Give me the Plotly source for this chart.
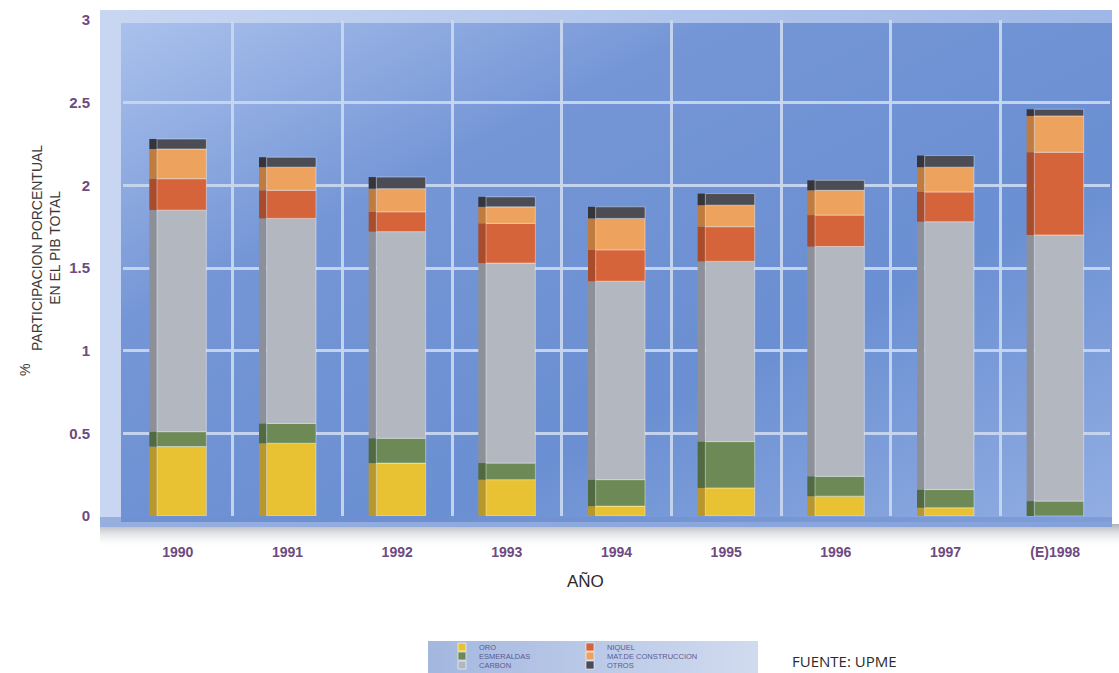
import base64
import numpy as np
import plotly.graph_objects as go

# Participación porcentual de la minería en el PIB total, por año y mineral
years = ["1990", "1991", "1992", "1993", "1994", "1995", "1996", "1997", "(E)1998"]
oro = [0.42, 0.44, 0.32, 0.22, 0.06, 0.17, 0.12, 0.05, 0.00]
esmeraldas = [0.09, 0.12, 0.15, 0.10, 0.16, 0.28, 0.12, 0.11, 0.09]
carbon = [1.34, 1.24, 1.25, 1.21, 1.20, 1.09, 1.39, 1.62, 1.61]
niquel = [0.19, 0.17, 0.12, 0.24, 0.19, 0.21, 0.19, 0.18, 0.50]
mat_construccion = [0.18, 0.14, 0.14, 0.10, 0.19, 0.13, 0.15, 0.15, 0.22]
otros = [0.06, 0.06, 0.07, 0.06, 0.07, 0.07, 0.06, 0.07, 0.04]

# name, values, front colour, side colour
series = [
    ("ORO", oro, "#e8c232", "#b8972c"),
    ("ESMERALDAS", esmeraldas, "#6d8a56", "#526a42"),
    ("CARBON", carbon, "#b3b7bf", "#8d9098"),
    ("NIQUEL", niquel, "#d6643a", "#a84c2c"),
    ("MAT.DE CONSTRUCCION", mat_construccion, "#eda35e", "#c07c3f"),
    ("OTROS", otros, "#4b4c54", "#34353b"),
]

W, H = 1119, 673
L, R, T, B = 123, 9, 20, 157
PW, PH = W - L - R, H - T - B


def px_x(x):
    return (x - L) / PW


def px_y(y):
    return (H - B - y) / PH


def svg_uri(svg):
    return "data:image/svg+xml;base64," + base64.b64encode(svg.encode()).decode()


# Blue wall behind the bars, with a soft diagonal gradient and a floor shadow
wall_svg = (
    '<svg xmlns="http://www.w3.org/2000/svg" width="1030" height="545" viewBox="0 0 1030 545" '
    'preserveAspectRatio="none"><defs>'
    '<linearGradient id="g" x1="0" y1="0" x2="1" y2="1">'
    '<stop offset="0" stop-color="#aac1ec"/><stop offset="0.3" stop-color="#7596d6"/>'
    '<stop offset="0.65" stop-color="#6a8fd2"/><stop offset="1" stop-color="#92aee3"/></linearGradient>'
    '<linearGradient id="f" x1="0" y1="0" x2="1" y2="0">'
    '<stop offset="0" stop-color="#c8d6f2"/><stop offset="1" stop-color="#9fb7e6"/></linearGradient>'
    '<linearGradient id="s" x1="0" y1="0" x2="0" y2="1">'
    '<stop offset="0" stop-color="#aeb2bc"/><stop offset="1" stop-color="#ffffff" stop-opacity="0"/></linearGradient>'
    '</defs>'
    '<rect x="5" y="519" width="1022" height="24" fill="url(#s)"/>'
    '<rect x="5" y="5" width="1012" height="517" fill="url(#f)"/>'
    '<rect x="26" y="18" width="991" height="499" fill="url(#g)"/>'
    '<rect x="5" y="512" width="1012" height="10" fill="#6f8fcf" opacity="0.55"/>'
    '</svg>'
)

legend_svg = (
    '<svg xmlns="http://www.w3.org/2000/svg" width="330" height="32" viewBox="0 0 330 32" '
    'preserveAspectRatio="none"><defs><linearGradient id="l" x1="0" y1="0" x2="1" y2="0">'
    '<stop offset="0" stop-color="#a3b7df"/><stop offset="1" stop-color="#d1dbef"/></linearGradient></defs>'
    '<rect width="330" height="32" fill="url(#l)"/></svg>'
)

fig = go.Figure()
base = np.zeros(len(years))
for name, vals, color, side in series:
    vals = np.asarray(vals, dtype=float)
    # darker left face of each column
    fig.add_trace(go.Bar(
        x=years, y=vals, base=base, name=name, width=0.07, offset=-0.26,
        marker=dict(color=side, line=dict(width=0)),
        showlegend=False, hoverinfo="skip",
    ))
    # front face of each column
    fig.add_trace(go.Bar(
        x=years, y=vals, base=base, name=name, width=0.45, offset=-0.19,
        marker=dict(color=color, line=dict(color="rgba(255,255,255,0.5)", width=0.8)),
        showlegend=False,
    ))
    base = base + vals

images = [
    dict(source=svg_uri(wall_svg), xref="paper", yref="paper",
         x=px_x(95), y=px_y(5), sizex=1030 / PW, sizey=545 / PH,
         xanchor="left", yanchor="top", sizing="stretch", layer="below"),
    dict(source=svg_uri(legend_svg), xref="paper", yref="paper",
         x=px_x(428), y=px_y(641), sizex=330 / PW, sizey=32 / PH,
         xanchor="left", yanchor="top", sizing="stretch", layer="below"),
]

annotations = [
    dict(text="AÑO", x=px_x(585), y=px_y(581), xref="paper", yref="paper",
         yanchor="middle", showarrow=False, font=dict(family="Arial", size=17, color="#2a2a2a")),
    dict(text="PARTICIPACION PORCENTUAL<br>EN EL PIB TOTAL", x=px_x(27), y=px_y(248),
         xref="paper", yref="paper", showarrow=False, textangle=-90,
         font=dict(family="Arial", size=14, color="#3a3a3a")),
    dict(text="%", x=px_x(15), y=px_y(378), xref="paper", yref="paper",
         showarrow=False, textangle=-90, font=dict(family="Arial", size=14, color="#3a3a3a")),
    dict(text="FUENTE: UPME", x=px_x(790), y=px_y(661), xref="paper", yref="paper",
         xanchor="left", yanchor="middle", showarrow=False,
         font=dict(family="Open Sans", size=15, color="#2a2a2a")),
]

# Legend built as two columns of three entries
shapes = []
legend_cols = [series[0:3], series[3:6]]
col_x = [458, 586]
row_y = [647, 656, 665]
for cx, col in zip(col_x, legend_cols):
    for ry, (name, _, color, _side) in zip(row_y, col):
        shapes.append(dict(type="rect", xref="paper", yref="paper",
                           x0=px_x(cx), x1=px_x(cx + 8), y0=px_y(ry + 4), y1=px_y(ry - 4),
                           fillcolor=color, line=dict(color="#ffffff", width=0.6)))
        annotations.append(dict(text=name, x=px_x(cx + 19), y=px_y(ry), xref="paper", yref="paper",
                                xanchor="left", yanchor="middle", showarrow=False,
                                font=dict(family="Arial", size=7.5, color="#5d5a92")))

fig.update_layout(
    width=W, height=H,
    margin=dict(l=L, r=R, t=T, b=B, pad=0),
    barmode="overlay",
    paper_bgcolor="white", plot_bgcolor="rgba(0,0,0,0)",
    images=images, shapes=shapes, annotations=annotations,
    xaxis=dict(
        type="category", tickson="boundaries", showgrid=True,
        gridcolor="rgba(200,214,238,0.95)", gridwidth=3,
        ticks="", ticklabelstandoff=26, showline=False, zeroline=False,
        tickfont=dict(family="Arial", size=14, color="#6d4a80", weight="bold"),
        range=[-0.5, 8.5],
    ),
    yaxis=dict(
        range=[0, 3], dtick=0.5, showgrid=True,
        gridcolor="rgba(200,214,238,0.95)", gridwidth=3,
        zeroline=False, showline=False, ticks="", ticklabelstandoff=32,
        tickfont=dict(family="Arial", size=15, color="#6d4a80", weight="bold"),
    ),
    font=dict(family="Arial"),
)

fig.write_html("out.html")
